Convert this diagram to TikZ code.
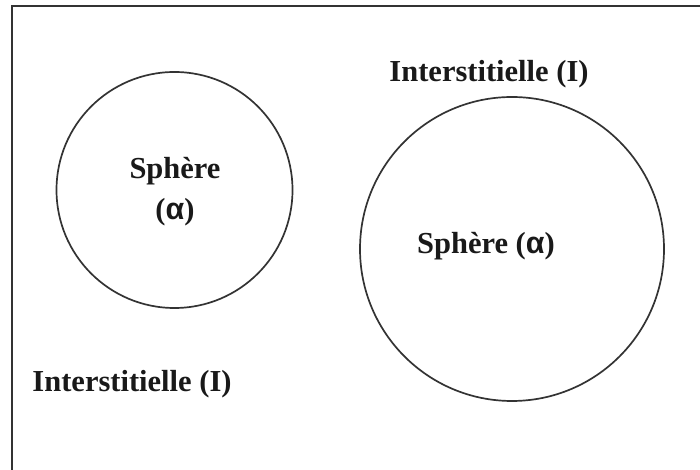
\documentclass[tikz,border=0pt]{standalone}
\usepackage{fontspec}
\setmainfont{Liberation Serif}
\newfontfamily\alphafont{Liberation Sans}
\begin{document}
\begin{tikzpicture}[x=1pt,y=1pt,
  lbl/.style={font=\fontsize{30.5}{34}\selectfont\bfseries, inner sep=0pt, text=black!90},
  sph/.style={circle, draw=black!80, line width=1.7pt, inner sep=0pt}]
\useasboundingbox (0,0) rectangle (700,470);
\coordinate (fa) at (12,0);
\coordinate (fb) at (12,464);
\coordinate (fc) at (700,464);
\draw[line width=2.2pt, black!80] (fa) -- (fb) -- (fc);
\node[sph, minimum size=236pt] (c1) at (174.5,280) {};
\node[sph, minimum size=304pt] (c2) at (512,221) {};
\node[lbl, align=center] (s1) at (175,278) {Sphère\\[7pt]({\alphafont α})};
\node[lbl] (s2) at (486,224) {Sphère ({\alphafont α})};
\node[lbl] (i1) at (132,86) {Interstitielle (I)};
\node[lbl] (i2) at (489,396) {Interstitielle (I)};
\end{tikzpicture}
\end{document}
